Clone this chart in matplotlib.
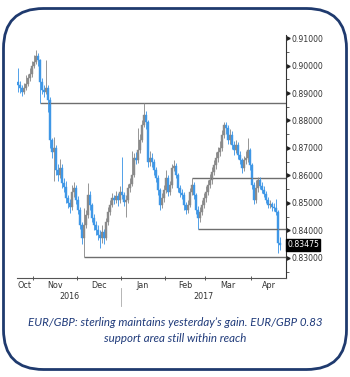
import numpy as np
import pandas as pd
import matplotlib
matplotlib.use("Agg")
import matplotlib.pyplot as plt
import matplotlib.transforms as mtransforms
from matplotlib.patches import FancyBboxPatch
from matplotlib.lines import Line2D

# Daily EUR/GBP bars, 20 Oct 2016 onwards
closes = [
    0.8929, 0.8918, 0.8904, 0.8918, 0.8933, 0.8955, 0.8969, 0.8998, 0.9013, 0.9035,
    0.9020, 0.8940, 0.8911, 0.8904, 0.8918, 0.8875, 0.8729, 0.8685, 0.8700, 0.8620,
    0.8602, 0.8627, 0.8573, 0.8558, 0.8518, 0.8500, 0.8485, 0.8540, 0.8555, 0.8511,
    0.8475, 0.8420, 0.8373, 0.8420, 0.8456, 0.8529, 0.8493, 0.8445, 0.8420, 0.8402,
    0.8384, 0.8373, 0.8395, 0.8373, 0.8431, 0.8467, 0.8493, 0.8518, 0.8511, 0.8525,
    0.8511, 0.8540, 0.8529, 0.8504, 0.8511, 0.8555, 0.8569, 0.8602, 0.8664, 0.8655,
    0.8693, 0.8729, 0.8784, 0.8820, 0.8795, 0.8649, 0.8664, 0.8649, 0.8620, 0.8591,
    0.8547, 0.8493, 0.8518, 0.8547, 0.8591, 0.8540, 0.8565, 0.8627, 0.8635, 0.8602,
    0.8555, 0.8536, 0.8529, 0.8493, 0.8475, 0.8493, 0.8540, 0.8565, 0.8529, 0.8475,
    0.8445, 0.8467, 0.8493, 0.8518, 0.8540, 0.8565, 0.8584, 0.8613, 0.8638, 0.8664,
    0.8685, 0.8700, 0.8747, 0.8784, 0.8773, 0.8729, 0.8747, 0.8711, 0.8693, 0.8711,
    0.8675, 0.8656, 0.8627, 0.8656, 0.8664, 0.8693, 0.8638, 0.8565, 0.8511, 0.8555,
    0.8584, 0.8562, 0.8547, 0.8533, 0.8511, 0.8493, 0.8496, 0.8485, 0.8482, 0.8467,
    0.8355, 0.83475,
]
highs = [
    0.8990, 0.8945, 0.8930, 0.8935, 0.8965, 0.8970, 0.8990, 0.9015, 0.9040, 0.9055,
    0.9045, 0.9025, 0.8955, 0.8930, 0.9020, 0.8930, 0.8885, 0.8735, 0.8740, 0.8710,
    0.8640, 0.8660, 0.8640, 0.8590, 0.8580, 0.8530, 0.8515, 0.8565, 0.8575, 0.8565,
    0.8525, 0.8485, 0.8430, 0.8480, 0.8475, 0.8573, 0.8545, 0.8500, 0.8460, 0.8435,
    0.8420, 0.8400, 0.8420, 0.8405, 0.8445, 0.8485, 0.8510, 0.8535, 0.8530, 0.8545,
    0.8535, 0.8560, 0.8667, 0.8540, 0.8530, 0.8570, 0.8590, 0.8690, 0.8680, 0.8685,
    0.8773, 0.8750, 0.8800, 0.8864, 0.8835, 0.8800, 0.8690, 0.8680, 0.8660, 0.8630,
    0.8600, 0.8555, 0.8535, 0.8565, 0.8620, 0.8600, 0.8580, 0.8640, 0.8655, 0.8645,
    0.8610, 0.8565, 0.8550, 0.8540, 0.8505, 0.8510, 0.8555, 0.8592, 0.8575, 0.8535,
    0.8490, 0.8485, 0.8510, 0.8535, 0.8560, 0.8585, 0.8605, 0.8630, 0.8655, 0.8685,
    0.8705, 0.8725, 0.8765, 0.8795, 0.8795, 0.8785, 0.8770, 0.8760, 0.8725, 0.8730,
    0.8720, 0.8690, 0.8665, 0.8670, 0.8690, 0.8736, 0.8700, 0.8645, 0.8575, 0.8585,
    0.8595, 0.8595, 0.8575, 0.8560, 0.8545, 0.8520, 0.8510, 0.8505, 0.8500, 0.8515,
    0.8475, 0.8375,
]
lows = [
    0.8905, 0.8900, 0.8890, 0.8895, 0.8910, 0.8925, 0.8945, 0.8960, 0.8990, 0.9005,
    0.9000, 0.8864, 0.8895, 0.8885, 0.8895, 0.8830, 0.8700, 0.8665, 0.8580, 0.8600,
    0.8580, 0.8590, 0.8555, 0.8540, 0.8500, 0.8480, 0.8465, 0.8475, 0.8520, 0.8495,
    0.8460, 0.8405, 0.8350, 0.8303, 0.8410, 0.8445, 0.8475, 0.8430, 0.8400, 0.8385,
    0.8365, 0.8336, 0.8355, 0.8350, 0.8365, 0.8420, 0.8455, 0.8485, 0.8495, 0.8500,
    0.8490, 0.8500, 0.8515, 0.8490, 0.8449, 0.8500, 0.8540, 0.8560, 0.8595, 0.8640,
    0.8645, 0.8680, 0.8720, 0.8775, 0.8770, 0.8630, 0.8635, 0.8630, 0.8600, 0.8575,
    0.8530, 0.8475, 0.8480, 0.8505, 0.8535, 0.8525, 0.8530, 0.8555, 0.8615, 0.8590,
    0.8540, 0.8520, 0.8515, 0.8475, 0.8460, 0.8465, 0.8485, 0.8530, 0.8515, 0.8460,
    0.8405, 0.8430, 0.8455, 0.8480, 0.8505, 0.8530, 0.8555, 0.8570, 0.8600, 0.8625,
    0.8650, 0.8670, 0.8690, 0.8735, 0.8750, 0.8715, 0.8715, 0.8695, 0.8675, 0.8680,
    0.8660, 0.8640, 0.8610, 0.8615, 0.8640, 0.8650, 0.8620, 0.8550, 0.8495, 0.8500,
    0.8540, 0.8550, 0.8535, 0.8520, 0.8500, 0.8480, 0.8480, 0.8470, 0.8470, 0.8455,
    0.8318, 0.8330,
]
first_open = 0.8940
last_price = 0.83475

# support / resistance lines: (bar where the line starts, level)
levels = [(11, 0.8864), (33, 0.8303), (87, 0.8592), (90, 0.8405)]

caption = ["EUR/GBP: sterling maintains yesterday\u2019s gain. EUR/GBP 0.83",
           "support area still within reach"]

dates = pd.bdate_range("2016-10-20", periods=len(closes))
opens = [first_open] + closes[:-1]
x = np.arange(len(closes))

W, H = 350, 377
fig = plt.figure(figsize=(W / 100, H / 100), dpi=100)
fig.patch.set_facecolor("white")

# rounded frame around everything
frame = FancyBboxPatch((0.035, 0.075), 3.43, 3.61,
                       boxstyle="round,pad=0,rounding_size=0.4",
                       transform=fig.dpi_scale_trans, fill=False,
                       edgecolor="#1f3a6e", linewidth=2.0)
fig.add_artist(frame)

ax = fig.add_axes([17 / W, 1 - 278 / H, (286 - 17) / W, (278 - 35) / H])
ax.set_xlim(-0.5, 134)
ax.set_ylim(0.8227, 0.9111)

blue = "#3f97e6"
grey = "#8a8a8a"
for i in x:
    o, c = opens[i], closes[i]
    col = blue if c < o else grey
    ax.vlines(i, lows[i], highs[i], color=col, linewidth=0.7, alpha=0.9)
    ax.bar(i, max(abs(c - o), 0.0003), bottom=min(o, c), width=0.7,
           color=col, edgecolor=col, linewidth=0.3)

for start, lvl in levels:
    ax.hlines(lvl, start, 134, color="#6e6e6e", linewidth=1.0, zorder=1)

# axes styling
for side in ("left", "top"):
    ax.spines[side].set_visible(False)
ax.spines["right"].set_color("#333333")
ax.spines["bottom"].set_color("#555555")
ax.spines["right"].set_linewidth(0.8)
ax.spines["bottom"].set_linewidth(0.8)

narrow = ["Liberation Sans Narrow", "DejaVu Sans"]
yt = np.arange(0.83, 0.9101, 0.01)
ax.yaxis.tick_right()
ax.set_yticks(yt)
ax.set_yticklabels([f"{v:.5f}" for v in yt], family=narrow, fontsize=5.6, color="#333333")
ax.set_yticks(np.arange(0.825, 0.911, 0.01), minor=True)
ax.tick_params(axis="y", which="major", length=0, pad=4)
ax.tick_params(axis="y", which="minor", length=2, width=0.6, color="#444444")
ytrans = mtransforms.blended_transform_factory(ax.transAxes, ax.transData)
ax.plot([1.006] * len(yt), yt, ">", ms=2.4, color="#222222",
        transform=ytrans, clip_on=False)

# month boundaries and labels
month_id = dates.year * 12 + dates.month
starts = [i for i in range(1, len(dates)) if month_id[i] != month_id[i - 1]]
bounds = [s - 0.5 for s in starts]
edges = [-0.5] + bounds + [134]
centers = [(edges[k] + edges[k + 1]) / 2 for k in range(len(edges) - 1)]
month_names = [dates[0].strftime("%b")] + [dates[s].strftime("%b") for s in starts]
ax.set_xticks(bounds)
ax.set_xticklabels([])
ax.set_xticks(centers, minor=True)
ax.set_xticklabels(month_names, minor=True, family=narrow, fontsize=5.8, color="#333333")
ax.tick_params(axis="x", which="major", length=3, width=0.7, direction="inout", color="#555555")
ax.tick_params(axis="x", which="minor", length=0, pad=2)

# year row with a divider at the new year
xtrans = mtransforms.blended_transform_factory(ax.transData, ax.transAxes)
jan = [s for s in starts if dates[s].month == 1][0] - 0.5
ax.text((-0.5 + jan) / 2, -0.078, str(dates[0].year), transform=xtrans, ha="center",
        va="center", family=narrow, fontsize=5.8, color="#333333")
ax.text((jan + 134) / 2, -0.078, str(dates[-1].year), transform=xtrans, ha="center",
        va="center", family=narrow, fontsize=5.8, color="#333333")
ax.add_line(Line2D([jan, jan], [-0.04, -0.115], transform=xtrans, color="#aaaaaa",
                   linewidth=0.6, clip_on=False))

# last price tag
ax.text(1.004, last_price, f"{last_price:.5f}", transform=ytrans, ha="left", va="center",
        family=narrow, fontsize=5.6, color="white",
        bbox=dict(boxstyle="square,pad=0.15", facecolor="black", edgecolor="black"))

fig.text(0.5, 1 - 323 / H, caption[0], ha="center", va="center", style="italic",
         family=["Lato", "DejaVu Sans"], fontsize=8.3, color="#1f3a7a")
fig.text(0.5, 1 - 338 / H, caption[1], ha="center", va="center", style="italic",
         family=["Lato", "DejaVu Sans"], fontsize=8.3, color="#1f3a7a")

fig.savefig("out.png", dpi=100)
